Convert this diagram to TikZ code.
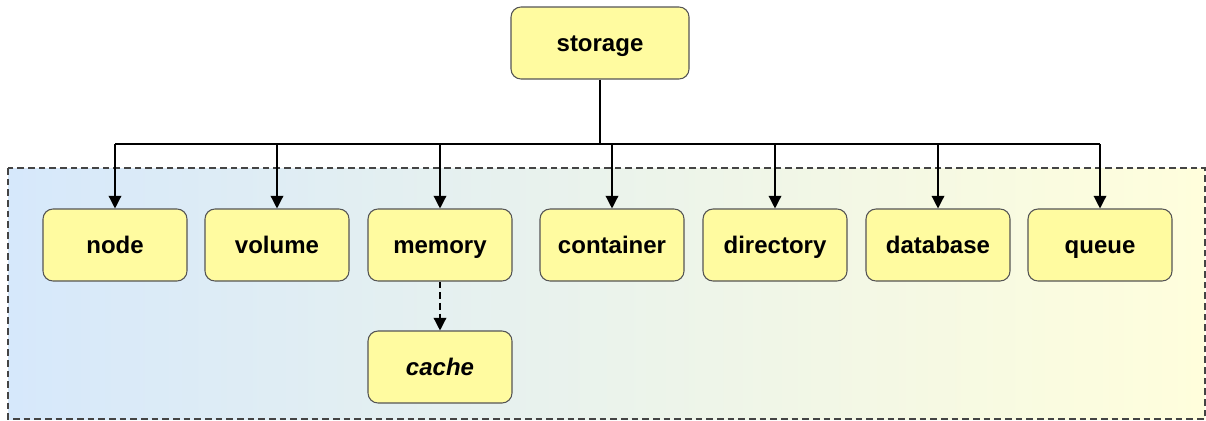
\documentclass[tikz,border=0pt]{standalone}
\usepackage{fontspec}
\setmainfont{Liberation Sans}
\usetikzlibrary{arrows.meta}
\definecolor{boxfill}{RGB}{255,251,160}
\definecolor{boxline}{RGB}{85,85,85}
\definecolor{bgleft}{RGB}{214,232,251}
\definecolor{bgright}{RGB}{255,254,220}

\begin{document}
\begin{tikzpicture}[x=0.75pt,y=-0.75pt,
    box/.style={draw=boxline,fill=boxfill,line width=0.8pt,rounded corners=7.5pt,
      minimum width=108pt,minimum height=54pt,text height=12pt,text depth=0pt,
      font=\fontsize{18}{20}\selectfont\bfseries},
    arr/.style={-{Triangle[length=9.5pt,width=9.5pt]},line width=1pt}]
    \useasboundingbox (0,0) rectangle (1206,421);
    \shade[left color=bgleft,right color=bgright] (8,168) rectangle (1205,419);
    \draw[boxline!80!black,line width=0.9pt,dash pattern=on 5pt off 3pt] (8,168) rectangle (1205,419);
    \node[box,minimum width=133.5pt] (top) at (600,43) {storage};
    \def\kids{node/115,volume/277,memory/440,container/612,directory/775,database/938,queue/1100}
    \foreach \k/\x [count=\i from 1] in \kids {\node[box] (c\i) at (\x,245) {\k};}
    \node[box,font=\fontsize{18}{20}\selectfont\bfseries\itshape] (cache) at (440,367) {cache};
    \coordinate (hub) at (600,144);
    \draw[line width=2pt] (top.south) -- (hub);
    \draw[line width=1pt] (c1.north |- hub) -- (c7.north |- hub);
    \foreach \i in {1,...,7} {\draw[arr] (c\i.north |- hub) -- (c\i.north);}
    \draw[arr,dash pattern=on 5pt off 3pt] (c3.south) -- (cache.north);
  \end{tikzpicture}
\end{document}
